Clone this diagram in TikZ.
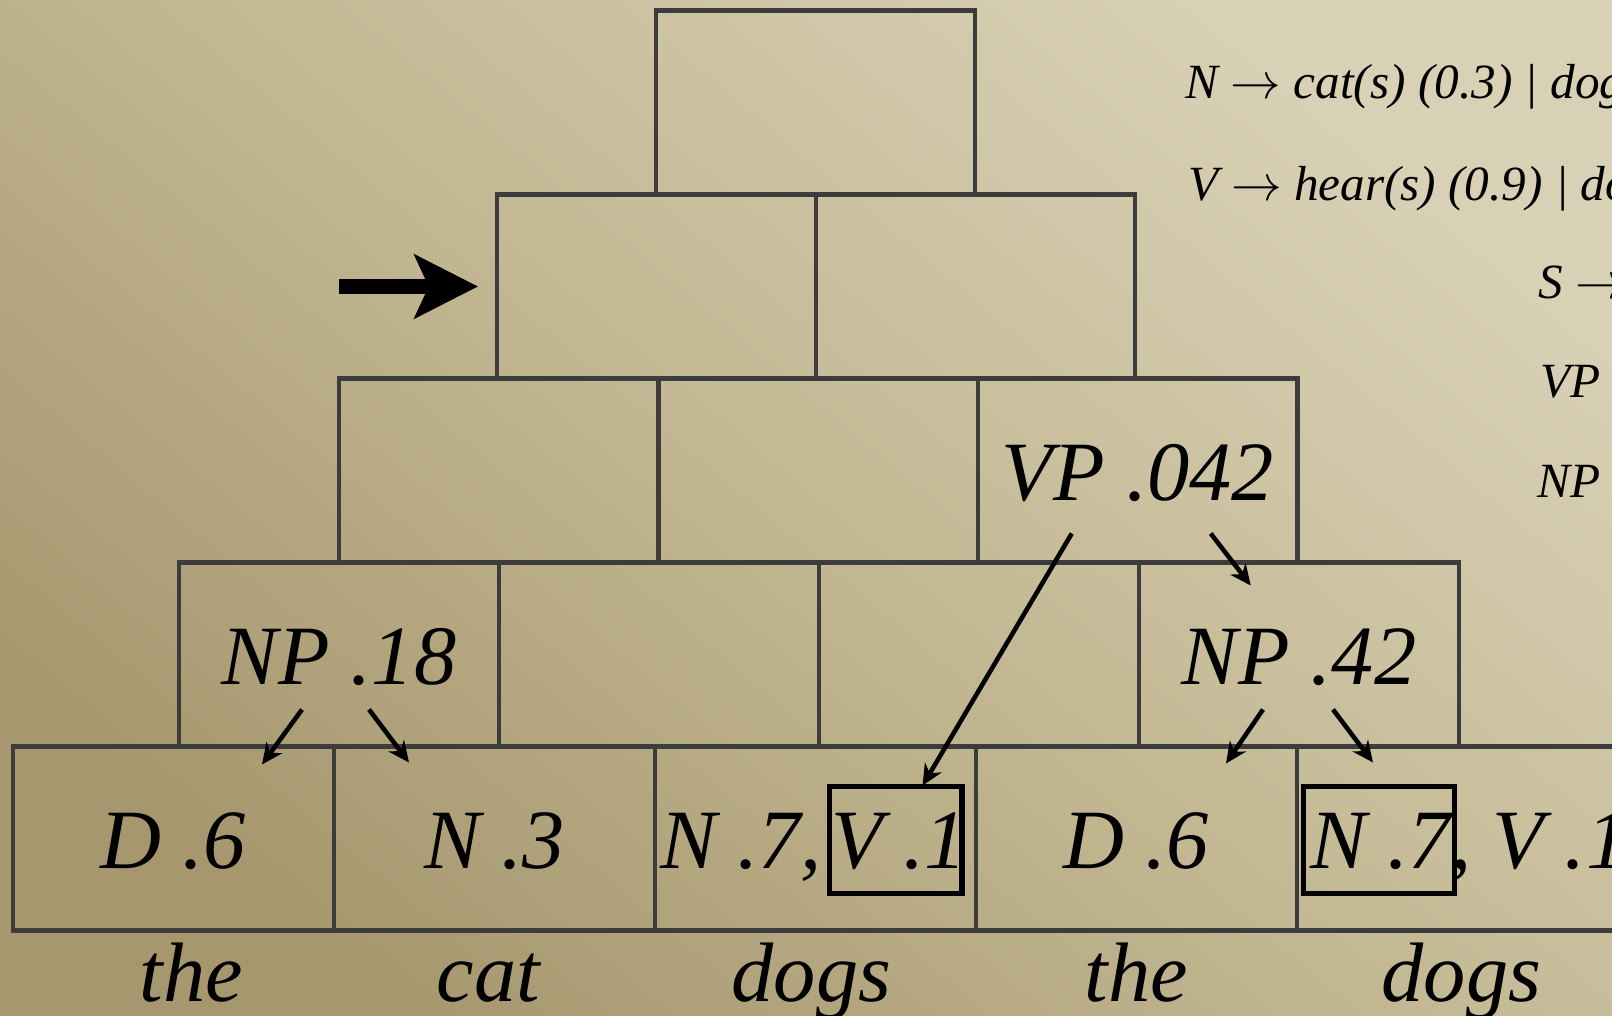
\documentclass[tikz,border=0pt]{standalone}
\usepackage{fontspec}
\setmainfont{Liberation Serif}
\usepackage{tikz}
\usetikzlibrary{positioning,arrows.meta,calc}
\definecolor{gridGray}{HTML}{3C3C3C}
\definecolor{bgLight}{RGB}{217,209,182}
\definecolor{bgMid}{RGB}{195,184,147}
\definecolor{bgDark}{RGB}{166,151,110}

\begin{document}
\begin{tikzpicture}[x=0.01cm, y=-0.01cm,
  every node/.style={font=\itshape},
  cell/.style={rectangle, draw=gridGray, line width=1.2pt, minimum height=1.84cm,
               inner sep=0pt, outer sep=0pt},
  lbl/.style={font=\fontsize{24}{28}\selectfont\itshape, inner sep=0pt},
  boxed/.style={lbl, draw=black, line width=1.6pt, text height=0.82cm, text depth=0.25cm,
                inner ysep=0pt, inner xsep=1pt},
  rule/.style={font=\fontsize{14}{17}\selectfont\itshape, inner sep=0pt, anchor=base west},
  pick/.style={-{Stealth[length=6pt,width=5.5pt]}, line width=1.3pt},
  pointer/.style={-{Stealth[length=18pt,width=18pt,inset=4pt]}, line width=4.3pt}
]
  \useasboundingbox (0,0) rectangle (1612,1015);
  \clip (0,0) rectangle (1612,1015);
  \shade[top color=bgLight, bottom color=bgDark, middle color=bgMid, shading angle=-40]
        (0,0) rectangle (1612,1015);
  % chart cells
  \foreach \r/\xs/\cw/\n in {0/13/321/4, 1/179/320/3, 2/339/319.5/2, 3/497/319/1, 4/656/319/0}
    \foreach \i in {0,...,\n}
      \node[cell, minimum width=\cw*0.01cm] (c\r\i) at (\xs+\cw/2+\cw*\i, 838.5-184*\r) {};
  % words
  \foreach \w/\dx [count=\i from 0] in {the/18,cat/-6,dogs/-4,the/0,dogs/4}
    \node[lbl, anchor=base] (w\i) at ($(c0\i.center)+(\dx,163)$) {\w};
  % entries
  \node[lbl, anchor=base] (d6a) at ($(c00.center)+(0,30)$) {D .6};
  \node[lbl, anchor=base] (n3) at ($(c01.center)+(0,30)$) {N .3};
  \node[boxed, inner xsep=-1.5pt, anchor=base west] (v1a) at ($(c02.center)+(11,30)$) {\kern2pt V .1};
  \node[lbl, anchor=base east] (n7a) at ($(v1a.base west)+(-4,0)$) {N .7,};
  \node[lbl, anchor=base] (d6b) at ($(c03.center)+(0,30)$) {D .6};
  \node[boxed, anchor=base west] (n7b) at ($(c04.center)+(-157,30)$) {\kern1pt N .7};
  \node[lbl, anchor=base west] (v1b) at ($(n7b.base east)+(-8,0)$) {, V .1};
  \node[lbl, anchor=base] (np18) at ($(c10.center)+(0,30)$) {NP .18};
  \node[lbl, anchor=base] (np42) at ($(c13.center)+(0,30)$) {NP .42};
  \node[lbl, anchor=base] (vp042) at ($(c22.center)+(0,30)$) {VP .042};
  % back-pointers
  \draw[pick] ($(np18.base)+(-37,25)$) -- ($(np18.base)+(-77,80)$);
  \draw[pick] ($(np18.base)+(30,25)$) -- ($(np18.base)+(70,78)$);
  \draw[pick] ($(np42.base)+(-36,25)$) -- ($(np42.base)+(-73,79)$);
  \draw[pick] ($(np42.base)+(34,25)$) -- ($(np42.base)+(74,78)$);
  \draw[pick] ($(vp042.base)+(73,33)$) -- ($(vp042.base)+(113,85)$);
  \draw[pick] ($(vp042.base)+(-66,33)$) -- ($(v1a.north)+(27,2)$);
  % current cell
  \coordinate (ptr) at ($(c30.west)+(-158,0)$);
  \draw[pointer, shorten >=0.19cm] (ptr) -- (c30.west);
  % grammar
  \node[rule] (gN) at (1185,98) {N $\rightarrow$ cat(s) (0.3) | dog(s)};
  \node[rule] (gV) at (1188,200) {V $\rightarrow$ hear(s) (0.9) | dog(s)};
  \node[rule] (gS) at (1538,298) {S $\rightarrow$};
  \node[rule] (gVP) at (1540,397) {VP $\rightarrow$};
  \node[rule] (gNP) at (1537,497) {NP $\rightarrow$};
\end{tikzpicture}
\end{document}
